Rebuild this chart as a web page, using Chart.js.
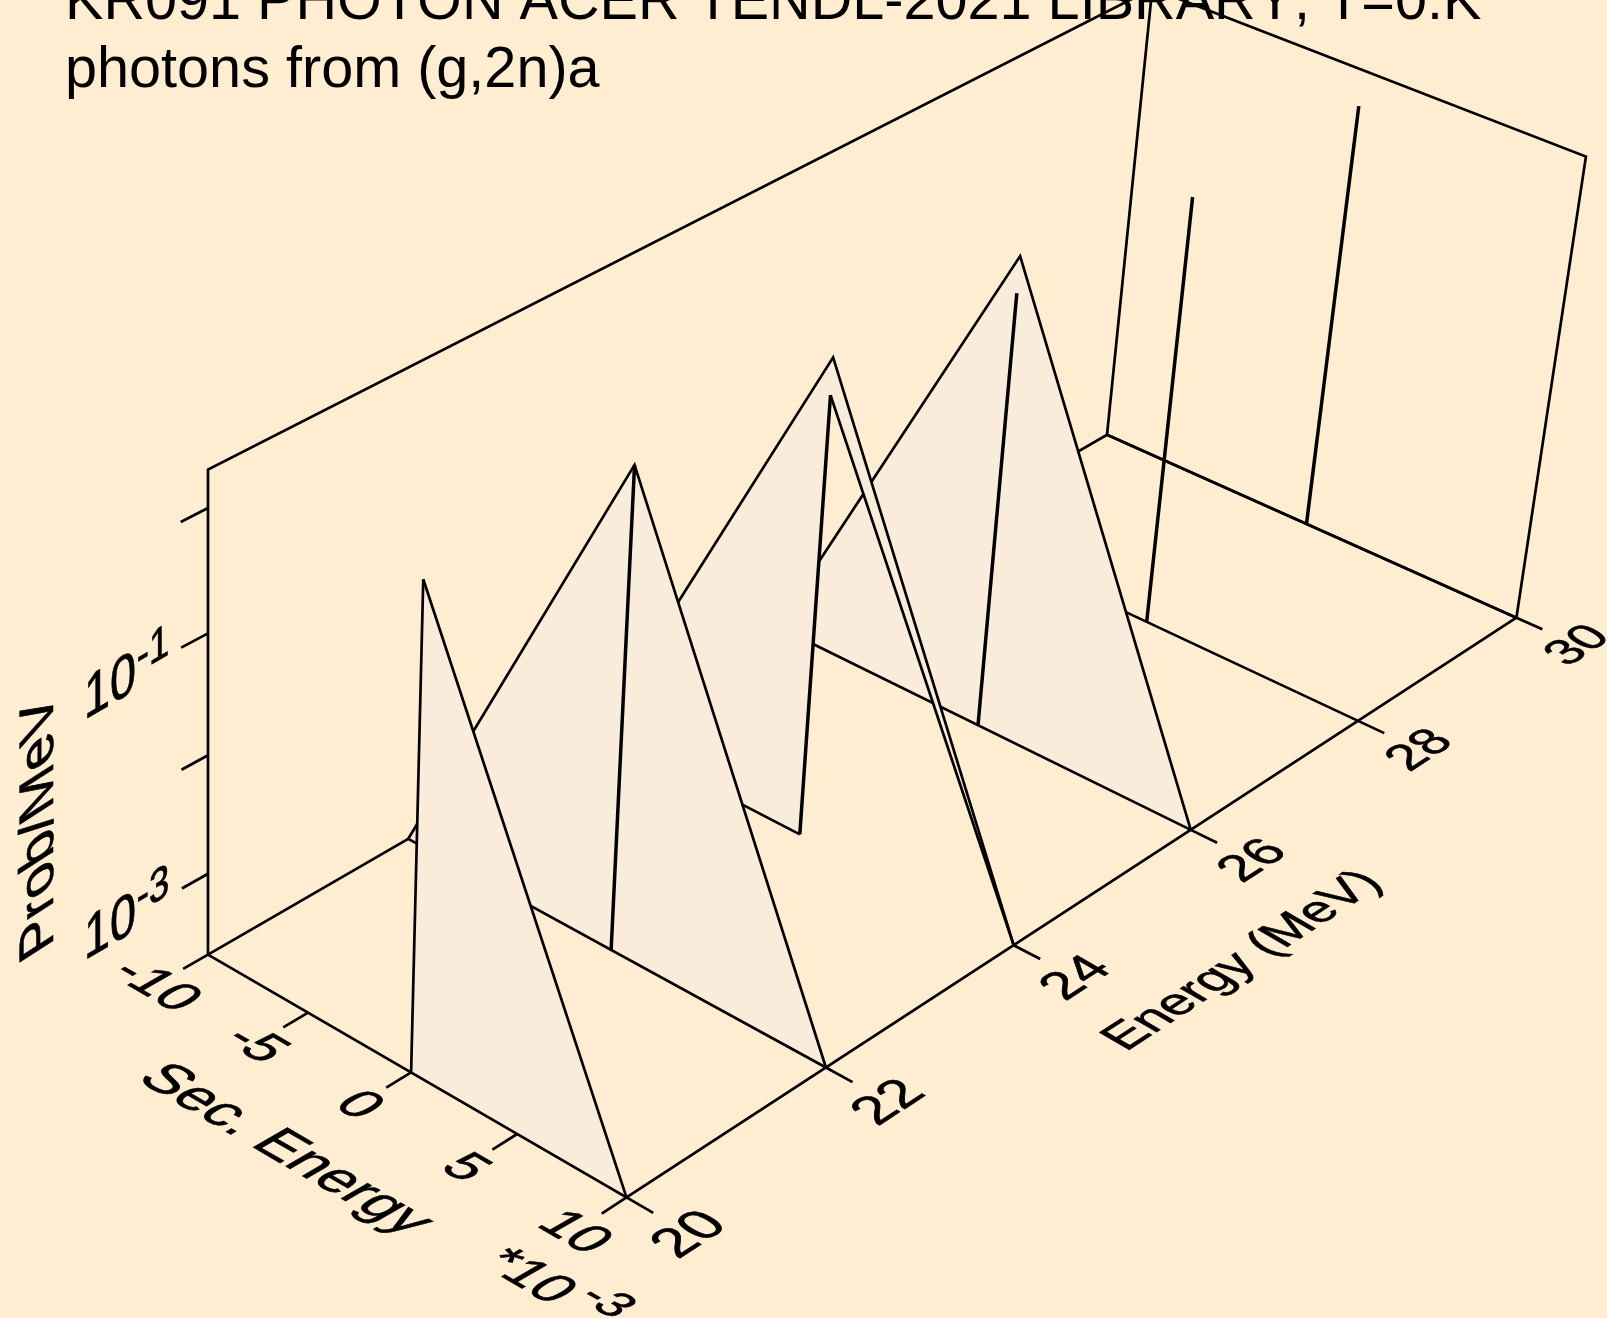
<!DOCTYPE html>
<html lang="en">
  <head>
    <meta charset="UTF-8" />
    <title>KR091 photons from (g,2n)a</title>
    <script src="https://cdn.jsdelivr.net/npm/chart.js"></script>
    <style>
      html, body { margin: 0; padding: 0; background: #ffedd2; overflow: hidden; }
      canvas { display: block; }
    </style>
  </head>
  <body>
    <canvas id="myChart" width="1607" height="1318"></canvas>

    <script>
      // values
      const energies = [20, 22, 24, 26, 28, 30];
      const peakProb = [2, 2, 2, 2, null, null];
      const stemProb = [2, 2, 1, 1, 1, 1];
      const edgeProb = [null, 2e-4, 2e-4, 2e-4, null, null];
      const tailProb = [2e-4, 2e-4, 2e-4, 2e-4, null, null];
      const baseEnd = [10, 10, 0, 10, 10, 10];

      const secTicks = [-10, -5, 0, 5, 10];
      const energyTicks = [20, 22, 24, 26, 28, 30];
      const probTicks = [1e-3, 1e-2, 1e-1, 1];
      const probLabelValues = [1e-3, 1e-1];
      const probLabelExps = ["-3", "-1"];

      const probMin = 2e-4;
      const probMax = 2;
      const titleLines = ["KR091 PHOTON ACER TENDL-2021 LIBRARY, T=0.K", "photons from (g,2n)a"];

      const fillColor = "#faecda";
      const lineWidth = 2.7;
      const stemWidth = 3.5;
      const font = "'Liberation Sans'";

      // perspective camera fitted to the box corners
      const cam = [
        [1061.05, 382.71, -11.43, 208],
        [-456.15, 174.43, -510.9, 954.6],
        [0.14638, -0.05712, -0.05494, 1],
      ];

      function depth(e, s) {
        return cam[2][0] * (e - 20) / 10 + cam[2][1] * (s + 10) / 20 + cam[2][3];
      }

      function project(e, s, p) {
        const u = (e - 20) / 10;
        const v = (s + 10) / 20;
        const t = (Math.log10(p) - Math.log10(probMin)) / (Math.log10(probMax) - Math.log10(probMin));
        const r = cam.map((c) => c[0] * u + c[1] * v + c[2] * t + c[3]);
        return { x: r[0] / r[2], y: r[1] / r[2] };
      }

      const datasets = [];

      function addLine(points, width) {
        datasets.push({
          data: points.map((q) => project(q[0], q[1], q[2])),
          showLine: true,
          borderColor: "#000",
          borderWidth: width || lineWidth,
          borderJoinStyle: "miter",
          pointRadius: 0,
          fill: false,
          order: -datasets.length,
        });
      }

      function addFill(points) {
        datasets.push({
          data: points.map((q) => project(q[0], q[1], q[2])),
          showLine: true,
          borderWidth: 0,
          borderColor: fillColor,
          backgroundColor: fillColor,
          pointRadius: 0,
          fill: "shape",
          order: -datasets.length,
        });
      }

      // back walls and the floor edge behind the sheets
      addLine([[20, -10, probMin], [30, -10, probMin], [30, 10, probMin]]);
      addLine([[20, -10, probMin], [20, -10, probMax], [30, -10, probMax], [30, -10, probMin]]);
      addLine([[30, -10, probMax], [30, 10, probMax], [30, 10, probMin]]);

      // sheets from the back to the front, so nearer ones cover farther ones
      for (let i = energies.length - 1; i >= 0; i--) {
        const e = energies[i];
        const peak = peakProb[i];
        const stem = stemProb[i];
        const left = edgeProb[i];
        const tail = tailProb[i];
        const end = baseEnd[i];

        if (peak) {
          if (end === 0) {
            addFill([[e, -10, left], [e, 0, peak], [e, 0, stem], [e, 0, probMin]]);
            addFill([[e, 0, peak], [e, 10, tail], [e, 0, stem]]);
          } else if (left) {
            addFill([[e, -10, left], [e, 0, peak], [e, 10, tail]]);
          } else {
            addFill([[e, 0, probMin], [e, 0, peak], [e, 10, tail]]);
          }
        }
        if (i > 0) {
          addLine([[e, -10, probMin], [e, end, probMin]]);
        }
        if (peak) {
          const outline = [[e, 0, peak], [e, 10, tail]];
          if (left) outline.unshift([e, -10, left]);
          addLine(outline);
          if (end === 0) addLine([[e, 0, stem], [e, 10, tail]]);
        }
        addLine([[e, 0, probMin], [e, 0, stem]], i === 0 ? lineWidth : stemWidth);
      }

      // front floor edges and ticks
      addLine([[20, -10, probMin], [20, 10, probMin], [30, 10, probMin]]);
      secTicks.forEach((s) => addLine([[19.76, s, probMin], [20, s, probMin]]));
      energyTicks.forEach((e) => addLine([[e, 10, probMin], [e, 11.2, probMin]]));
      probTicks.forEach((p) => addLine([[19.75, -10, p], [20, -10, p]]));

      function putText(ctx, str, x, y, size, b, up) {
        ctx.save();
        ctx.translate(x, y);
        ctx.transform(b[0], b[1], -up[0], -up[1], 0, 0);
        ctx.font = size + "px " + font;
        ctx.textAlign = "center";
        ctx.textBaseline = "middle";
        ctx.fillStyle = "#000";
        ctx.strokeStyle = "#000";
        ctx.lineWidth = 0.7;
        ctx.fillText(str, 0, 0);
        ctx.strokeText(str, 0, 0);
        ctx.restore();
      }

      const labelPlugin = {
        id: "labels",
        afterDatasetsDraw(chart) {
          const ctx = chart.ctx;
          const alongSec = [0.865, 0.502];
          const alongEnergy = [0.838, -0.546];
          const alongWall = [0.866, -0.5];
          const vertical = [0, -1];
          const tall = [0, -1.12];
          const back = [-0.865, -0.502];

          ctx.save();
          ctx.font = "57.6px " + font;
          ctx.fontKerning = "none";
          ctx.fillStyle = "#000";
          ctx.textAlign = "left";
          ctx.textBaseline = "alphabetic";
          titleLines.forEach((line, i) => ctx.fillText(line, 65, 19 + i * 68));
          ctx.restore();

          secTicks.forEach((s) => {
            const q = project(19.49, s, probMin);
            putText(ctx, String(s), q.x, q.y + 1, 54, alongSec, alongWall);
          });
          energyTicks.forEach((e) => {
            const q = project(e, 12.9, probMin);
            putText(ctx, String(e), q.x - 1, q.y, 52.5 / depth(e, 10), alongEnergy, back);
          });
          probLabelValues.forEach((p, i) => {
            const q = project(20, -10, p);
            putText(ctx, "10", q.x - 98, q.y + 55, 54, alongWall, tall);
            putText(ctx, probLabelExps[i], q.x - 55, q.y + 17, 42, alongWall, tall);
          });

          putText(ctx, "Sec. Energy", 285, 1150, 57.6, alongSec, alongWall);
          putText(ctx, "*10", 528, 1277, 55, alongSec, alongWall);
          putText(ctx, "-3", 606, 1302, 48, alongSec, alongWall);
          putText(ctx, "Energy (MeV)", 1243, 961, 50, alongEnergy, back);
          putText(ctx, "Prob/MeV", 40, 826, 57.6, vertical, [-0.84, 0.54]);
        },
      };

      new Chart(document.getElementById("myChart").getContext("2d"), {
        type: "scatter",
        data: { datasets: datasets },
        plugins: [labelPlugin],
        options: {
          responsive: false,
          animation: false,
          events: [],
          layout: { padding: 0 },
          scales: {
            x: { type: "linear", min: 0, max: 1607, display: false },
            y: { type: "linear", min: 0, max: 1318, reverse: true, display: false },
          },
          plugins: {
            legend: { display: false },
            tooltip: { enabled: false },
          },
        },
      });
    </script>
  </body>
</html>
